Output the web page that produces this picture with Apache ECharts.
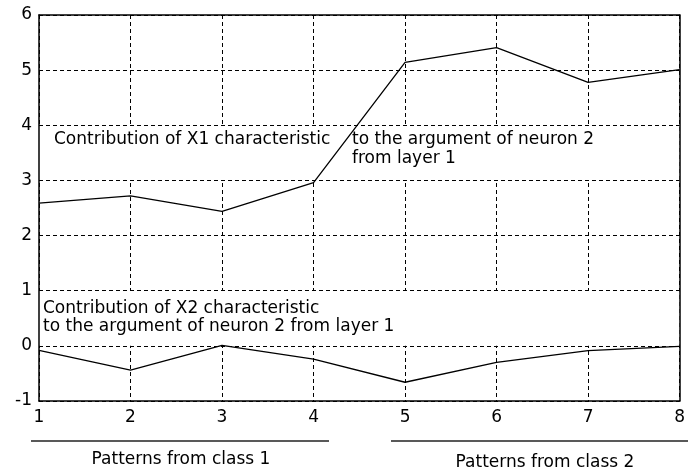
<!DOCTYPE html>
<html>
<head>
<meta charset="utf-8">
<script src="https://cdn.jsdelivr.net/npm/echarts@6/dist/echarts.min.js"></script>
<style>
html,body{margin:0;padding:0;background:#fff;}
#chart{width:688px;height:474px;}
</style>
</head>
<body>
<div id="chart"></div>
<script>
// ---- data ----
const patterns = [1, 2, 3, 4, 5, 6, 7, 8];
const x1Contribution = [2.59, 2.72, 2.44, 2.96, 5.14, 5.41, 4.78, 5.01];
const x2Contribution = [-0.08, -0.44, 0.01, -0.24, -0.66, -0.30, -0.085, -0.01];
const yMin = -1, yMax = 6, yStep = 1;
const xMin = 1, xMax = 8, xStep = 1;
const bandX1 = [3, 4];   // white band behind X1 label (y range)
const bandX2 = [0, 1];   // white band behind X2 label (y range)
const labelX1a = 'Contribution of X1 characteristic';
const labelX1b = 'to the argument of neuron 2';
const labelX1c = 'from layer 1';
const labelX2a = 'Contribution of X2 characteristic';
const labelX2b = 'to the argument of neuron 2 from layer 1';
const class1Label = 'Patterns from class 1';
const class2Label = 'Patterns from class 2';

const FONT = '"DejaVu Sans", "Liberation Sans", Arial, sans-serif';
const chart = echarts.init(document.getElementById('chart'), null, {renderer: 'canvas'});

const pairs = arr => patterns.map((p, i) => [p, arr[i]]);
const borderLine = {show: true, onZero: false, lineStyle: {color: '#000', width: 1.5}};
const dash = {show: true, lineStyle: {color: '#000', width: 1, type: [4, 3]}};

function txt(text, x, y, align) {
  return {
    type: 'text', z: 20, x: x, y: y, silent: true,
    style: {text: text, fill: '#000', font: '17px ' + FONT,
            align: align || 'left', textAlign: align || 'left',
            verticalAlign: 'middle', textVerticalAlign: 'middle'}
  };
}
function hline(x1, x2, y) {
  return {type: 'line', z: 20, silent: true,
          shape: {x1: x1, y1: y, x2: x2, y2: y},
          style: {stroke: '#222', lineWidth: 1.5}};
}

chart.setOption({
  animation: false,
  backgroundColor: '#fff',
  grid: {left: 39, right: 8, top: 15, bottom: 73},
  xAxis: [
    {type: 'value', min: xMin, max: xMax, interval: xStep, z: 0,
     axisLine: borderLine, axisTick: {show: false},
     axisLabel: {color: '#000', fontSize: 17, fontFamily: FONT, margin: 8},
     splitLine: dash},
    {type: 'value', position: 'top', min: xMin, max: xMax, interval: xStep, z: 10,
     axisLine: borderLine, axisTick: {show: false}, axisLabel: {show: false},
     splitLine: {show: false}}
  ],
  yAxis: [
    {type: 'value', min: yMin, max: yMax, interval: yStep, z: 10,
     axisLine: borderLine, axisTick: {show: false},
     axisLabel: {color: '#000', fontSize: 17, fontFamily: FONT, margin: 7},
     splitLine: dash},
    {type: 'value', position: 'right', min: yMin, max: yMax, interval: yStep, z: 10,
     axisLine: borderLine, axisTick: {show: false}, axisLabel: {show: false},
     splitLine: {show: false}}
  ],
  series: [
    {type: 'line', data: [], z: 1, silent: true,
     markArea: {silent: true, itemStyle: {color: '#fff', opacity: 1},
       data: [
         [{xAxis: xMin, yAxis: bandX1[0]}, {xAxis: xMax, yAxis: bandX1[1]}],
         [{xAxis: xMin, yAxis: bandX2[0]}, {xAxis: xMax, yAxis: bandX2[1]}]
       ]}},
    {type: 'line', name: 'X1', data: pairs(x1Contribution), z: 5,
     showSymbol: false, symbol: 'none',
     lineStyle: {color: '#000', width: 1.3}},
    {type: 'line', name: 'X2', data: pairs(x2Contribution), z: 5,
     showSymbol: false, symbol: 'none',
     lineStyle: {color: '#000', width: 1.3}}
  ],
  graphic: [
    txt(labelX1a, 54, 140),
    txt(labelX1b, 352, 140),
    txt(labelX1c, 352, 159),
    txt(labelX2a, 43, 309),
    txt(labelX2b, 43, 327),
    hline(31, 329, 441),
    hline(391, 688, 441),
    txt(class1Label, 181, 460, 'center'),
    txt(class2Label, 545, 463, 'center')
  ]
});
</script>
</body>
</html>
